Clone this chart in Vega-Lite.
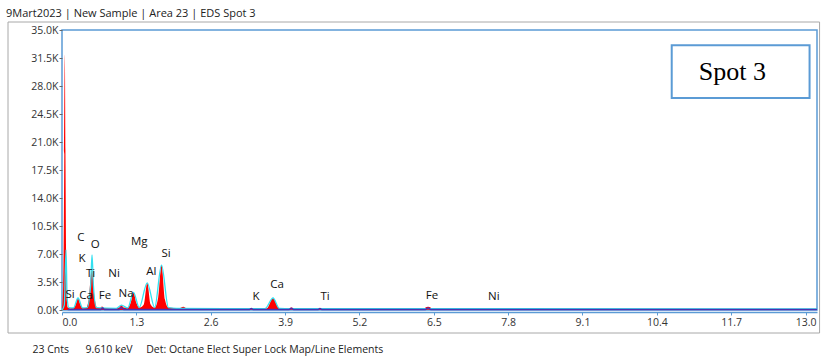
{
  "$schema": "https://vega.github.io/schema/vega-lite/v6.json",
  "width": 755,
  "height": 280,
  "autosize": {"type": "none"},
  "padding": {"left": 62, "top": 30, "right": 4, "bottom": 48},
  "background": "white",
  "title": {
    "text": "9Mart2023 | New Sample | Area 23 | EDS Spot 3",
    "anchor": "start",
    "frame": "group",
    "dx": -56,
    "dy": 8,
    "offset": 11,
    "font": "Open Sans",
    "fontSize": 11,
    "fontWeight": "normal",
    "color": "#222"
  },
  "config": {
    "view": {"stroke": "#5b9bd5", "strokeWidth": 1.5},
    "axis": {"grid": false, "labelFont": "Open Sans", "labelFontSize": 10.5, "labelColor": "#333", "labelOverlap": false}
  },
  "datasets": {
    "spectrum": [
      {"s": "red", "e": 0.0, "c": 0},
      {"s": "red", "e": 0.02, "c": 3000},
      {"s": "red", "e": 0.04, "c": 19500},
      {"s": "red", "e": 0.05, "c": 31900},
      {"s": "red", "e": 0.06, "c": 20000},
      {"s": "red", "e": 0.08, "c": 2000},
      {"s": "red", "e": 0.10, "c": 300},
      {"s": "red", "e": 0.14, "c": 200},
      {"s": "red", "e": 0.20, "c": 250},
      {"s": "red", "e": 0.24, "c": 700},
      {"s": "red", "e": 0.28, "c": 1500},
      {"s": "red", "e": 0.32, "c": 700},
      {"s": "red", "e": 0.36, "c": 250},
      {"s": "red", "e": 0.42, "c": 250},
      {"s": "red", "e": 0.47, "c": 1500},
      {"s": "red", "e": 0.52, "c": 5000},
      {"s": "red", "e": 0.57, "c": 1500},
      {"s": "red", "e": 0.62, "c": 250},
      {"s": "red", "e": 0.66, "c": 250},
      {"s": "red", "e": 0.70, "c": 450},
      {"s": "red", "e": 0.74, "c": 250},
      {"s": "red", "e": 0.95, "c": 200},
      {"s": "red", "e": 1.00, "c": 300},
      {"s": "red", "e": 1.04, "c": 600},
      {"s": "red", "e": 1.08, "c": 300},
      {"s": "red", "e": 1.15, "c": 250},
      {"s": "red", "e": 1.20, "c": 900},
      {"s": "red", "e": 1.25, "c": 2200},
      {"s": "red", "e": 1.30, "c": 900},
      {"s": "red", "e": 1.35, "c": 300},
      {"s": "red", "e": 1.43, "c": 700},
      {"s": "red", "e": 1.49, "c": 3400},
      {"s": "red", "e": 1.55, "c": 700},
      {"s": "red", "e": 1.62, "c": 300},
      {"s": "red", "e": 1.68, "c": 1500},
      {"s": "red", "e": 1.74, "c": 5600},
      {"s": "red", "e": 1.80, "c": 1300},
      {"s": "red", "e": 1.86, "c": 300},
      {"s": "red", "e": 2.05, "c": 200},
      {"s": "red", "e": 2.12, "c": 400},
      {"s": "red", "e": 2.18, "c": 200},
      {"s": "red", "e": 3.25, "c": 150},
      {"s": "red", "e": 3.31, "c": 250},
      {"s": "red", "e": 3.36, "c": 150},
      {"s": "red", "e": 3.58, "c": 200},
      {"s": "red", "e": 3.69, "c": 1500},
      {"s": "red", "e": 3.80, "c": 200},
      {"s": "red", "e": 3.95, "c": 150},
      {"s": "red", "e": 4.01, "c": 300},
      {"s": "red", "e": 4.07, "c": 150},
      {"s": "red", "e": 4.45, "c": 130},
      {"s": "red", "e": 4.51, "c": 250},
      {"s": "red", "e": 4.57, "c": 130},
      {"s": "red", "e": 6.30, "c": 120},
      {"s": "red", "e": 6.40, "c": 400},
      {"s": "red", "e": 6.50, "c": 120},
      {"s": "red", "e": 7.47, "c": 110},
      {"s": "red", "e": 13.2, "c": 80},
      {"s": "cyan", "e": 0.0, "c": 0},
      {"s": "cyan", "e": 0.04, "c": 600},
      {"s": "cyan", "e": 0.07, "c": 7500},
      {"s": "cyan", "e": 0.09, "c": 1500},
      {"s": "cyan", "e": 0.12, "c": 300},
      {"s": "cyan", "e": 0.20, "c": 250},
      {"s": "cyan", "e": 0.28, "c": 1500},
      {"s": "cyan", "e": 0.36, "c": 250},
      {"s": "cyan", "e": 0.44, "c": 300},
      {"s": "cyan", "e": 0.50, "c": 3000},
      {"s": "cyan", "e": 0.525, "c": 6900},
      {"s": "cyan", "e": 0.55, "c": 3000},
      {"s": "cyan", "e": 0.60, "c": 300},
      {"s": "cyan", "e": 0.95, "c": 200},
      {"s": "cyan", "e": 1.04, "c": 600},
      {"s": "cyan", "e": 1.15, "c": 250},
      {"s": "cyan", "e": 1.25, "c": 2200},
      {"s": "cyan", "e": 1.35, "c": 300},
      {"s": "cyan", "e": 1.49, "c": 3400},
      {"s": "cyan", "e": 1.62, "c": 300},
      {"s": "cyan", "e": 1.74, "c": 5600},
      {"s": "cyan", "e": 1.86, "c": 300},
      {"s": "cyan", "e": 2.0, "c": 200},
      {"s": "cyan", "e": 3.55, "c": 180},
      {"s": "cyan", "e": 3.69, "c": 1500},
      {"s": "cyan", "e": 3.80, "c": 200},
      {"s": "cyan", "e": 4.0, "c": 170},
      {"s": "cyan", "e": 13.2, "c": 150},
      {"s": "base", "e": 0.1, "c": 60},
      {"s": "base", "e": 0.68, "c": 60},
      {"s": "base", "e": 0.71, "c": 250},
      {"s": "base", "e": 0.74, "c": 60},
      {"s": "base", "e": 1.0, "c": 60},
      {"s": "base", "e": 1.04, "c": 300},
      {"s": "base", "e": 1.08, "c": 60},
      {"s": "base", "e": 3.27, "c": 60},
      {"s": "base", "e": 3.31, "c": 180},
      {"s": "base", "e": 3.35, "c": 60},
      {"s": "base", "e": 3.97, "c": 60},
      {"s": "base", "e": 4.01, "c": 220},
      {"s": "base", "e": 4.05, "c": 60},
      {"s": "base", "e": 4.47, "c": 60},
      {"s": "base", "e": 4.51, "c": 180},
      {"s": "base", "e": 4.55, "c": 60},
      {"s": "base", "e": 6.34, "c": 60},
      {"s": "base", "e": 6.40, "c": 250},
      {"s": "base", "e": 6.46, "c": 60},
      {"s": "base", "e": 13.2, "c": 60}
    ],
    "labels": [
      {"t": "C", "e": 0.33, "c": 9000},
      {"t": "O", "e": 0.58, "c": 8100},
      {"t": "K", "e": 0.35, "c": 6400},
      {"t": "Ti", "e": 0.50, "c": 4500},
      {"t": "Ni", "e": 0.91, "c": 4500},
      {"t": "Mg", "e": 1.35, "c": 8500},
      {"t": "Al", "e": 1.56, "c": 4750},
      {"t": "Si", "e": 1.82, "c": 7000},
      {"t": "Si", "e": 0.14, "c": 1900},
      {"t": "Ca", "e": 0.42, "c": 1750},
      {"t": "Fe", "e": 0.75, "c": 1750},
      {"t": "Na", "e": 1.12, "c": 2000},
      {"t": "K", "e": 3.39, "c": 1600},
      {"t": "Ca", "e": 3.76, "c": 3100},
      {"t": "Ti", "e": 4.60, "c": 1600},
      {"t": "Fe", "e": 6.47, "c": 1750},
      {"t": "Ni", "e": 7.55, "c": 1600}
    ],
    "frames": [
      {"k": "outer", "x1": -0.944, "x2": 13.245, "y1": 36000, "y2": -2875},
      {"k": "spot", "x1": 10.66, "x2": 13.07, "y1": 33100, "y2": 26500}
    ],
    "spot": [
      {"t": "Spot 3", "e": 11.72, "c": 29800}
    ]
  },
  "layer": [
    {
      "data": {"name": "frames"},
      "transform": [{"filter": "datum.k === 'outer'"}],
      "mark": {"type": "rect", "fill": null, "stroke": "#a8a8a8", "strokeWidth": 1, "clip": false},
      "encoding": {
        "x": {
          "field": "x1", "type": "quantitative",
          "scale": {"domain": [0, 13.2], "nice": false, "zero": false},
          "axis": {
            "values": [0, 1.3, 2.6, 3.9, 5.2, 6.5, 7.8, 9.1, 10.4, 11.7, 13.0],
            "tickCount": 20,
            "format": ".1f",
            "domainColor": "#5b9bd5",
            "domainWidth": 1.5,
            "offset": 2,
            "tickSize": 3,
            "tickColor": "#5b9bd5",
            "labelPadding": 2,
            "labelOverlap": false,
            "title": "23 Cnts\u00a0\u00a0\u00a0\u00a0\u00a0\u00a09.610 keV\u00a0\u00a0\u00a0\u00a0\u00a0Det: Octane Elect Super Lock Map/Line Elements",
            "titleFont": "Open Sans",
            "titleFontSize": 10.5,
            "titleFontWeight": "normal",
            "titleColor": "#222",
            "titleAnchor": "start",
            "titleAlign": "left",
            "titleX": -30,
            "titleY": 32
          }
        },
        "x2": {"field": "x2"},
        "y": {
          "field": "y1", "type": "quantitative",
          "scale": {"domain": [0, 35000], "nice": false},
          "axis": {
            "values": [0, 3500, 7000, 10500, 14000, 17500, 21000, 24500, 28000, 31500, 35000],
            "tickCount": 20,
            "labelExpr": "format(datum.value / 1000, '.1f') + 'K'",
            "labelOverlap": false,
            "labelBound": false,
            "domain": false,
            "tickSize": 3,
            "tickColor": "#666",
            "labelPadding": 1,
            "title": null
          }
        },
        "y2": {"field": "y2"}
      }
    },
    {
      "data": {"name": "spectrum"},
      "transform": [{"filter": "datum.s === 'red'"}],
      "mark": {"type": "area", "color": "#ff0000", "interpolate": "monotone", "line": false},
      "encoding": {
        "x": {"field": "e", "type": "quantitative"},
        "y": {"field": "c", "type": "quantitative"}
      }
    },
    {
      "data": {"name": "spectrum"},
      "transform": [{"filter": "datum.s === 'cyan'"}],
      "mark": {"type": "line", "color": "#33e0f0", "strokeWidth": 1.3, "interpolate": "monotone"},
      "encoding": {
        "x": {"field": "e", "type": "quantitative"},
        "y": {"field": "c", "type": "quantitative"}
      }
    },
    {
      "data": {"name": "spectrum"},
      "transform": [{"filter": "datum.s === 'base'"}],
      "mark": {"type": "line", "color": "#4b2fb0", "strokeWidth": 1.5, "interpolate": "monotone"},
      "encoding": {
        "x": {"field": "e", "type": "quantitative"},
        "y": {"field": "c", "type": "quantitative"}
      }
    },
    {
      "data": {"name": "labels"},
      "mark": {"type": "text", "font": "Open Sans", "fontSize": 11.5, "color": "#111", "align": "center", "baseline": "middle"},
      "encoding": {
        "x": {"field": "e", "type": "quantitative"},
        "y": {"field": "c", "type": "quantitative"},
        "text": {"field": "t"}
      }
    },
    {
      "data": {"name": "frames"},
      "transform": [{"filter": "datum.k === 'spot'"}],
      "mark": {"type": "rect", "fill": "white", "stroke": "#5b9bd5", "strokeWidth": 2},
      "encoding": {
        "x": {"field": "x1", "type": "quantitative"},
        "x2": {"field": "x2"},
        "y": {"field": "y1", "type": "quantitative"},
        "y2": {"field": "y2"}
      }
    },
    {
      "data": {"name": "spot"},
      "mark": {"type": "text", "font": "Liberation Serif", "fontSize": 26, "color": "#000", "align": "center", "baseline": "middle"},
      "encoding": {
        "x": {"field": "e", "type": "quantitative"},
        "y": {"field": "c", "type": "quantitative"},
        "text": {"field": "t"}
      }
    }
  ]
}
